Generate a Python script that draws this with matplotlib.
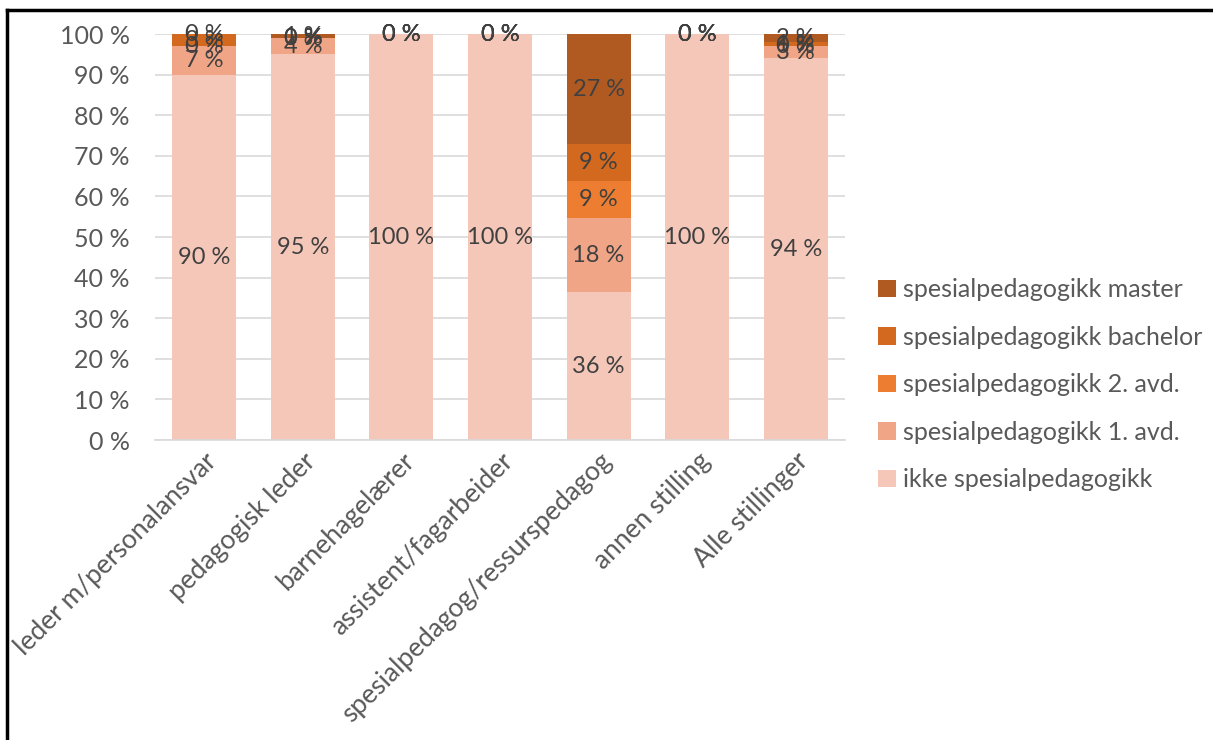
import matplotlib
matplotlib.use("Agg")
import matplotlib.pyplot as plt
from matplotlib.lines import Line2D
import numpy as np

categories = ["leder m/personalansvar", "pedagogisk leder", "barnehagelærer",
              "assistent/fagarbeider", "spesialpedagog/ressurspedagog",
              "annen stilling", "Alle stillinger"]
series_names = ["ikke spesialpedagogikk", "spesialpedagogikk 1. avd.",
                "spesialpedagogikk 2. avd.", "spesialpedagogikk bachelor",
                "spesialpedagogikk master"]
ikke = [90, 95, 100, 100, 36.4, 100, 94]
avd1 = [7, 4, 0, 0, 18.2, 0, 3]
avd2 = [0, 0, 0, 0, 9.1, 0, 0]
bachelor = [3, 0, 0, 0, 9.1, 0, 1]
master = [0, 1, 0, 0, 27.2, 0, 2]
yticks = [0, 10, 20, 30, 40, 50, 60, 70, 80, 90, 100]

series = [ikke, avd1, avd2, bachelor, master]
colors = ["#F5C7B8", "#F1A587", "#ED7D31", "#D2691F", "#B05A22"]

plt.rcParams['font.family'] = ['Lato', 'DejaVu Sans']
fig = plt.figure(figsize=(12.13, 7.40), dpi=100)
ax = fig.add_axes([155/1213, 1-440/740, 690/1213, 406/740])

x = np.arange(len(categories))
bottom = np.zeros(len(categories))
for vals, col, name in zip(series, colors, series_names):
    v = np.array(vals, dtype=float)
    ax.bar(x, v, 0.65, bottom=bottom, color=col, label=name, zorder=2)
    for xi, b, h in zip(x, bottom, v):
        ax.text(xi, b + h/2, f"{round(h):d} %", ha='center', va='center',
                fontsize=17, color='#404040', zorder=3)
    bottom += v

ax.set_xlim(-0.5, len(categories)-0.5)
ax.set_ylim(0, 100)
ax.set_yticks(yticks)
ax.set_yticklabels([f"{t} %" for t in yticks], fontsize=18, color='#595959')
ax.yaxis.grid(True, color='#D9D9D9', linewidth=1.2, zorder=0)
ax.tick_params(axis='y', length=0, pad=18)
ax.tick_params(axis='x', length=0, pad=6)
ax.set_xticks(x)
ax.set_xticklabels(categories, rotation=45, ha='right', rotation_mode='anchor',
                   fontsize=19, color='#595959')
for s in ['top', 'right', 'left']:
    ax.spines[s].set_visible(False)
ax.spines['bottom'].set_color('#D9D9D9')
ax.spines['bottom'].set_linewidth(1.2)

handles, labels = ax.get_legend_handles_labels()
leg = fig.legend(handles[::-1], labels[::-1], loc='upper left',
                 bbox_to_anchor=(868/1213, 1-268/740), frameon=False,
                 fontsize=18, handlelength=0.7, handleheight=0.7,
                 handletextpad=0.3, labelspacing=0.98, borderaxespad=0)
for t in leg.get_texts():
    t.set_color('#595959')

fig.add_artist(Line2D([7/1213, 1.0], [1-10/740, 1-10/740], color='black', lw=2.5,
                      transform=fig.transFigure))
fig.add_artist(Line2D([7/1213, 7/1213], [0, 1-10/740], color='black', lw=2.5,
                      transform=fig.transFigure))

fig.savefig("out.png", dpi=100, facecolor='white')
